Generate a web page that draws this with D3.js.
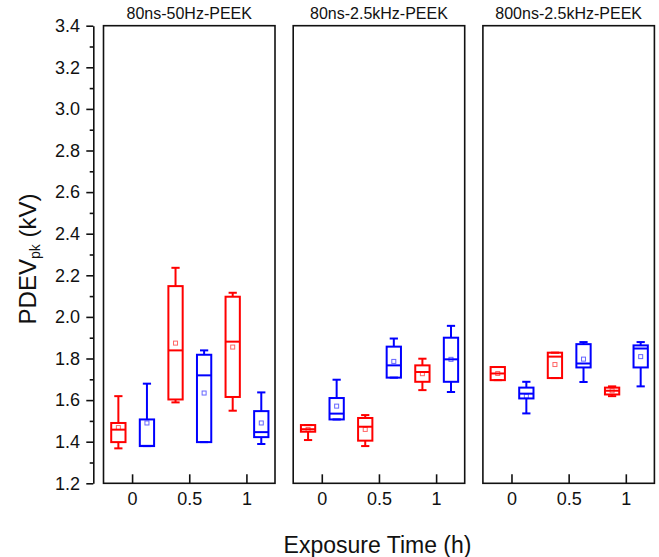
<!DOCTYPE html>
<html>
<head>
<meta charset="utf-8">
<script src="https://cdn.jsdelivr.net/npm/d3@7"></script>
<style>
  html, body { margin: 0; padding: 0; background: #fff; }
  svg { display: block; font-family: "Liberation Sans", Arial, sans-serif; }
</style>
</head>
<body>
<svg id="chart" width="659" height="557"></svg>
<script>
// ---------------- data ----------------
const panelTitles = ["80ns-50Hz-PEEK", "80ns-2.5kHz-PEEK", "800ns-2.5kHz-PEEK"];
const times = [0, 0.5, 1];
const xTickLabels = ["0", "0.5", "1"];
const yTicks = [1.2, 1.4, 1.6, 1.8, 2.0, 2.2, 2.4, 2.6, 2.8, 3.0, 3.2, 3.4];
const yMinorTicks = [1.3, 1.5, 1.7, 1.9, 2.1, 2.3, 2.5, 2.7, 2.9, 3.1, 3.3];

// order of each list: panel 1 (t = 0, 0.5, 1), panel 2 (t = 0, 0.5, 1), panel 3 (t = 0, 0.5, 1)
const redMax    = [1.619, 2.236, 2.116,  1.480, 1.528, 1.799,  1.759, 1.828, 1.666];
const redQ3     = [1.490, 2.148, 2.097,  1.480, 1.514, 1.767,  1.759, 1.828, 1.660];
const redMedian = [1.458, 1.839, 1.881,  1.460, 1.472, 1.735,  1.728, 1.809, 1.645];
const redQ1     = [1.398, 1.603, 1.615,  1.448, 1.405, 1.688,  1.696, 1.706, 1.627];
const redMin    = [1.368, 1.589, 1.549,  1.408, 1.379, 1.648,  1.696, 1.706, 1.619];
const redMean   = [1.468, 1.874, 1.855,  1.459, 1.459, 1.727,  1.728, 1.771, 1.645];

const blueMax    = [1.679, 1.839, 1.637,  1.698, 1.896, 1.957,  1.688, 1.879, 1.879];
const blueQ3     = [1.507, 1.818, 1.547,  1.610, 1.857, 1.900,  1.660, 1.869, 1.863];
const blueMedian = [1.380, 1.719, 1.446,  1.535, 1.767, 1.796,  1.631, 1.776, 1.848];
const blueQ1     = [1.379, 1.398, 1.422,  1.507, 1.708, 1.688,  1.608, 1.757, 1.757];
const blueMin    = [1.379, 1.398, 1.389,  1.507, 1.708, 1.639,  1.536, 1.687, 1.666];
const blueMean   = [1.490, 1.634, 1.490,  1.571, 1.786, 1.796,  1.619, 1.797, 1.809];

// ---------------- layout ----------------
const svg = d3.select("#chart");
const plotTop = 25.7, plotBottom = 483.3;
const panelLeft0 = 103.5, panelW = 171.5, panelGap = 18.2;
const axisX = 93.3;
const font = "'Liberation Sans', Arial, sans-serif";

const seriesDefs = [
  { color: "#ff0000", offset: -0.12, max: redMax, q3: redQ3, med: redMedian, q1: redQ1, min: redMin, mean: redMean },
  { color: "#0000ff", offset: 0.13, max: blueMax, q3: blueQ3, med: blueMedian, q1: blueQ1, min: blueMin, mean: blueMean }
];
const boxW = 0.125, capW = 0.072;

const y = d3.scaleLinear().domain([1.2, 3.4]).range([plotBottom, plotTop]);

// y axis (separate line left of panels)
const yAxisG = svg.append("g").attr("transform", `translate(${axisX},0)`)
  .call(d3.axisLeft(y).tickValues(yTicks).tickSize(7).tickSizeOuter(0).tickPadding(6.3)
    .tickFormat(d3.format(".1f")));
yAxisG.select(".domain").attr("stroke", "#111").attr("stroke-width", 1.6);
yAxisG.selectAll(".tick line").attr("stroke", "#111").attr("stroke-width", 1.6);
yAxisG.selectAll(".tick text").attr("font-size", 18).attr("font-family", font).attr("fill", "#111");
const yMinorG = svg.append("g").attr("transform", `translate(${axisX},0)`)
  .call(d3.axisLeft(y).tickValues(yMinorTicks).tickSize(3.6).tickSizeOuter(0).tickFormat(""));
yMinorG.select(".domain").remove();
yMinorG.selectAll(".tick line").attr("stroke", "#111").attr("stroke-width", 1.6);

panelTitles.forEach((title, p) => {
  const left = panelLeft0 + p * (panelW + panelGap);
  const x = d3.scaleLinear().domain([-0.25, 1.25]).range([left, left + panelW]);
  const g = svg.append("g");

  // x axis with inward ticks
  const xg = g.append("g").attr("transform", `translate(0,${plotBottom})`)
    .call(d3.axisBottom(x).tickValues(times).tickSize(-9).tickSizeOuter(0).tickPadding(9)
      .tickFormat((d, i) => xTickLabels[i]));
  xg.select(".domain").remove();
  xg.selectAll(".tick line").attr("stroke", "#111").attr("stroke-width", 1.6);
  xg.selectAll(".tick text").attr("font-size", 18).attr("font-family", font).attr("fill", "#111");

  // boxes
  seriesDefs.forEach(s => {
    times.forEach((t, ti) => {
      const k = p * 3 + ti;
      const cx = x(t + s.offset);
      const hw = (x(boxW) - x(0)) / 2;
      const cw = (x(capW) - x(0)) / 2;
      const bg = g.append("g").attr("stroke", s.color).attr("fill", "none").attr("stroke-width", 2);
      // whiskers
      bg.append("line").attr("x1", cx).attr("x2", cx).attr("y1", y(s.q3[k])).attr("y2", y(s.max[k]));
      bg.append("line").attr("x1", cx).attr("x2", cx).attr("y1", y(s.q1[k])).attr("y2", y(s.min[k]));
      bg.append("line").attr("x1", cx - cw).attr("x2", cx + cw).attr("y1", y(s.max[k])).attr("y2", y(s.max[k]));
      bg.append("line").attr("x1", cx - cw).attr("x2", cx + cw).attr("y1", y(s.min[k])).attr("y2", y(s.min[k]));
      // box
      bg.append("rect").attr("x", cx - hw).attr("width", 2 * hw)
        .attr("y", y(s.q3[k])).attr("height", Math.max(0.5, y(s.q1[k]) - y(s.q3[k])));
      // median
      bg.append("line").attr("x1", cx - hw).attr("x2", cx + hw).attr("y1", y(s.med[k])).attr("y2", y(s.med[k]));
      // mean marker
      bg.append("rect").attr("x", cx - 2).attr("y", y(s.mean[k]) - 2).attr("width", 4).attr("height", 4)
        .attr("stroke-width", 1).attr("stroke-opacity", 0.6);
    });
  });

  // frame
  g.append("rect").attr("x", left).attr("y", plotTop).attr("width", panelW).attr("height", plotBottom - plotTop)
    .attr("fill", "none").attr("stroke", "#111").attr("stroke-width", 1.6);

  // title
  svg.append("text").attr("x", left + panelW / 2).attr("y", 19).attr("text-anchor", "middle")
    .attr("font-size", 16).attr("font-family", font).attr("fill", "#111").text(title);
});

// axis titles
svg.append("text").attr("x", 377.5).attr("y", 553).attr("text-anchor", "middle")
  .attr("font-size", 23).attr("font-family", font).attr("fill", "#111").text("Exposure Time (h)");

const yl = svg.append("text").attr("transform", "translate(36,259) rotate(-90)").attr("text-anchor", "middle")
  .attr("font-size", 24).attr("font-family", font).attr("fill", "#111");
yl.append("tspan").text("PDEV");
yl.append("tspan").attr("font-size", 14).attr("dy", 4).text("pk");
yl.append("tspan").attr("dy", -4).text(" (kV)");
</script>
</body>
</html>
